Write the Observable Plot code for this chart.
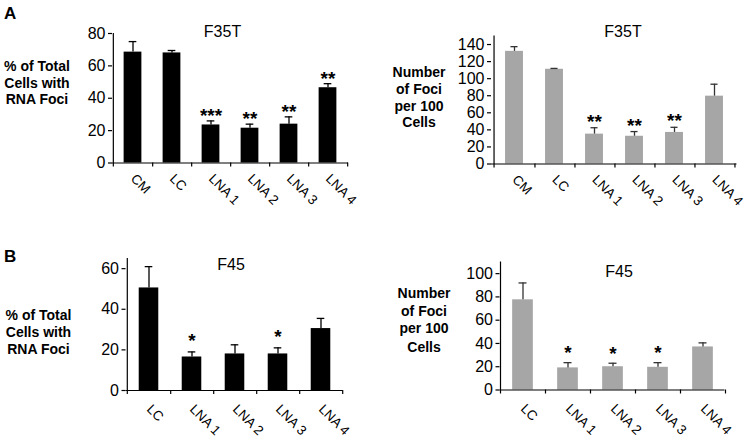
<!DOCTYPE html>
<html>
<head>
<meta charset="utf-8">
<script src="https://cdn.jsdelivr.net/npm/d3@7"></script>
<script src="https://cdn.jsdelivr.net/npm/@observablehq/plot@0.6"></script>
<style>
  html, body { margin: 0; padding: 0; background: #fff; }
  #root { position: relative; width: 750px; height: 441px; overflow: hidden; background: #fff;
          font-family: "Liberation Sans", Arial, sans-serif; }
  .panel { position: absolute; }
  #overlay { position: absolute; left: 0; top: 0; pointer-events: none; }
</style>
</head>
<body>
<div id="root"></div>
<script>
// ---------- Data ----------
const f35tCategories = ["CM", "LC", "LNA 1", "LNA 2", "LNA 3", "LNA 4"];
const f35tPercent = [68.5, 68, 23.5, 21.5, 24, 46.5];
const f35tPercentErr = [6.5, 1.5, 2.5, 2.5, 4.5, 2.5];
const f35tPercentStars = ["", "", "***", "**", "**", "**"];

const f35tFoci = [132, 111, 35, 32.5, 37, 79.5];
const f35tFociErr = [5.5, 1, 7.5, 5.5, 6, 14];
const f35tFociStars = ["", "", "**", "**", "**", ""];

const f45Categories = ["LC", "LNA 1", "LNA 2", "LNA 3", "LNA 4"];
const f45Percent = [50.5, 16.5, 18, 18, 30.5];
const f45PercentErr = [10.5, 2.5, 4.5, 3, 5];
const f45PercentStars = ["", "*", "", "*", ""];

const f45Foci = [77.5, 19, 20, 19.5, 37];
const f45FociErr = [14.5, 4.5, 3, 4, 3.5];
const f45FociStars = ["", "*", "*", "*", ""];

const percentTicksA = [0, 20, 40, 60, 80];
const fociTicksA = [0, 20, 40, 60, 80, 100, 120, 140];
const percentTicksB = [0, 20, 40, 60];
const fociTicksB = [0, 20, 40, 60, 80, 100];

const panelTitles = ["F35T", "F35T", "F45", "F45"];
const percentLabel = ["% of Total", "Cells with", "RNA Foci"];
const fociLabel = ["Number", "of Foci", "per 100", "Cells"];
const sectionLabels = ["A", "B"];

// ---------- Layout ----------
const FONT = '"Liberation Sans", Arial, sans-serif';
const panels = [
  {left: 0, top: 0, width: 375, height: 220, mL: 112, mR: 27, mT: 33, mB: 57.5,
   cats: f35tCategories, vals: f35tPercent, errs: f35tPercentErr, stars: f35tPercentStars,
   fill: "#000", errStroke: "#000", yDomain: [0, 80], yTicks: percentTicksA, starDy: 1, labelDy: 16.5},
  {left: 375, top: 0, width: 375, height: 220, mL: 116, mR: 13.5, mT: 35.5, mB: 56.5,
   cats: f35tCategories, vals: f35tFoci, errs: f35tFociErr, stars: f35tFociStars,
   fill: "#a6a6a6", errStroke: "#333", yDomain: [0, 150], yTicks: fociTicksA, starDy: 0, labelDy: 16.5},
  {left: 0, top: 220, width: 375, height: 221, mL: 125.5, mR: 32.5, mT: 38, mB: 51,
   cats: f45Categories, vals: f45Percent, errs: f45PercentErr, stars: f45PercentStars,
   fill: "#000", errStroke: "#000", yDomain: [0, 65], yTicks: percentTicksB, starDy: -4.5, labelDy: 19.5},
  {left: 375, top: 220, width: 375, height: 221, mL: 124.5, mR: 25.5, mT: 41.5, mB: 51.5,
   cats: f45Categories, vals: f45Foci, errs: f45FociErr, stars: f45FociStars,
   fill: "#a6a6a6", errStroke: "#333", yDomain: [0, 110], yTicks: fociTicksB, starDy: -3.5, labelDy: 19.5}
];

const root = document.getElementById("root");

function drawPanel(p) {
  const data = p.cats.map((c, i) => ({cat: c, value: p.vals[i], err: p.errs[i], star: p.stars[i]}));
  const bw = (p.width - p.mL - p.mR) / p.cats.length;
  const barInset = bw * 0.27;
  const capInset = (bw - 8) / 2;
  const chart = Plot.plot({
    width: p.width, height: p.height,
    marginLeft: p.mL, marginRight: p.mR, marginTop: p.mT, marginBottom: p.mB,
    x: {type: "band", domain: p.cats, padding: 0, axis: null},
    y: {domain: p.yDomain, axis: null},
    style: {fontFamily: FONT, background: "transparent", overflow: "visible", color: "#000"},
    marks: [
      Plot.barY(data, {x: "cat", y: "value", fill: p.fill, insetLeft: barInset, insetRight: barInset}),
      Plot.ruleX(data, {x: "cat", y1: "value", y2: d => d.value + d.err, stroke: p.errStroke, strokeWidth: 1.3}),
      Plot.tickY(data, {x: "cat", y: d => d.value + d.err, stroke: p.errStroke, strokeWidth: 1.3,
                        insetLeft: capInset, insetRight: capInset}),
      Plot.text(data.filter(d => d.star), {x: "cat", y: d => d.value + d.err, text: "star",
                        lineAnchor: "bottom", dy: p.starDy, fontSize: 19, fontWeight: "bold", fill: "#000"}),
      Plot.axisY({ticks: p.yTicks, label: null, tickSize: 4, tickPadding: 3, fontSize: 16, strokeWidth: 1.2}),
      // y-axis line (left edge of the first band), extending below as a tick
      Plot.ruleX([p.cats[0]], {x: d => d, dx: -bw / 2, insetBottom: -4, stroke: "#000", strokeWidth: 1.2}),
      // x-axis line
      Plot.ruleY([0], {stroke: "#000", strokeWidth: 1.2}),
      // boundary ticks between categories
      Plot.ruleX(p.cats, {x: d => d, dx: bw / 2, y1: 0, y2: 0, insetBottom: -4, stroke: "#000", strokeWidth: 1.2}),
      // rotated category labels
      Plot.text(p.cats, {x: d => d, frameAnchor: "bottom", rotate: 45, textAnchor: "start",
                         lineAnchor: "bottom", dx: -3, dy: p.labelDy, fontSize: 13.5, fill: "#000"})
    ]
  });
  const div = document.createElement("div");
  div.className = "panel";
  div.style.left = p.left + "px";
  div.style.top = p.top + "px";
  div.appendChild(chart);
  root.appendChild(div);
}
panels.forEach(drawPanel);

// ---------- Overlay text (panel letters, titles, y labels) ----------
const NS = "http://www.w3.org/2000/svg";
const overlay = document.createElementNS(NS, "svg");
overlay.setAttribute("id", "overlay");
overlay.setAttribute("width", 750);
overlay.setAttribute("height", 441);
overlay.setAttribute("font-family", FONT);
root.appendChild(overlay);

function addText(str, x, y, {size = 14, weight = "normal", anchor = "middle"} = {}) {
  const t = document.createElementNS(NS, "text");
  t.setAttribute("x", x);
  t.setAttribute("y", y);
  t.setAttribute("font-size", size);
  t.setAttribute("font-weight", weight);
  t.setAttribute("text-anchor", anchor);
  t.setAttribute("fill", "#000");
  t.textContent = str;
  overlay.appendChild(t);
}

addText(sectionLabels[0], 4, 18.5, {size: 17, weight: "bold", anchor: "start"});
addText(sectionLabels[1], 4, 261.5, {size: 17, weight: "bold", anchor: "start"});

addText(panelTitles[0], 222.5, 36.7, {size: 16});
addText(panelTitles[1], 623, 36.7, {size: 16});
addText(panelTitles[2], 231, 270, {size: 16});
addText(panelTitles[3], 619, 277.3, {size: 16});

const yLabelSpecs = [
  {lines: percentLabel, x: 37, baselines: [71, 87.7, 104.3]},
  {lines: fociLabel, x: 419, baselines: [76.7, 94, 111, 126.7]},
  {lines: percentLabel, x: 38.5, baselines: [320, 336.7, 354.3]},
  {lines: fociLabel, x: 424, baselines: [298.3, 315.7, 333.3, 351.7]}
];
yLabelSpecs.forEach(s => s.lines.forEach((l, i) => addText(l, s.x, s.baselines[i], {size: 14, weight: "bold"})));
</script>
</body>
</html>
